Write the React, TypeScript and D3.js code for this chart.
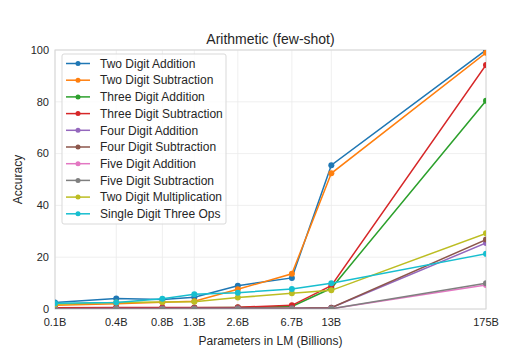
import { useEffect, useRef } from "react";
import * as d3 from "d3";

// model sizes in billions (GPT-3 family) and their tick labels
const PARAMS = [0.125, 0.35, 0.76, 1.3, 2.7, 6.7, 13, 175];
const TICK_LABELS = ["0.1B", "0.4B", "0.8B", "1.3B", "2.6B", "6.7B", "13B", "175B"];
const Y_TICKS = [0, 20, 40, 60, 80, 100];

const TWO_DIGIT_ADD = [2.5, 4.1, 3.7, 4.5, 9.0, 12.0, 55.5, 100.0];
const TWO_DIGIT_SUB = [1.4, 2.0, 2.6, 3.0, 7.6, 13.6, 52.4, 98.9];
const THREE_DIGIT_ADD = [0.3, 0.4, 0.4, 0.5, 0.6, 1.0, 8.0, 80.4];
const THREE_DIGIT_SUB = [0.5, 0.6, 0.6, 0.6, 0.7, 1.4, 9.0, 94.2];
const FOUR_DIGIT_ADD = [0.1, 0.2, 0.2, 0.3, 0.3, 0.3, 0.5, 25.5];
const FOUR_DIGIT_SUB = [0.1, 0.2, 0.2, 0.3, 0.3, 0.3, 0.5, 26.8];
const FIVE_DIGIT_ADD = [0.0, 0.0, 0.0, 0.0, 0.0, 0.0, 0.1, 9.3];
const FIVE_DIGIT_SUB = [0.0, 0.0, 0.0, 0.0, 0.0, 0.0, 0.1, 9.9];
const TWO_DIGIT_MUL = [1.8, 2.5, 2.7, 2.8, 4.4, 6.1, 7.2, 29.2];
const SINGLE_DIGIT_OPS = [2.2, 2.5, 4.0, 5.7, 6.3, 7.7, 9.9, 21.3];

const SERIES = [
  { name: "Two Digit Addition", values: TWO_DIGIT_ADD, color: "#1f77b4" },
  { name: "Two Digit Subtraction", values: TWO_DIGIT_SUB, color: "#ff7f0e" },
  { name: "Three Digit Addition", values: THREE_DIGIT_ADD, color: "#2ca02c" },
  { name: "Three Digit Subtraction", values: THREE_DIGIT_SUB, color: "#d62728" },
  { name: "Four Digit Addition", values: FOUR_DIGIT_ADD, color: "#9467bd" },
  { name: "Four Digit Subtraction", values: FOUR_DIGIT_SUB, color: "#8c564b" },
  { name: "Five Digit Addition", values: FIVE_DIGIT_ADD, color: "#e377c2" },
  { name: "Five Digit Subtraction", values: FIVE_DIGIT_SUB, color: "#7f7f7f" },
  { name: "Two Digit Multiplication", values: TWO_DIGIT_MUL, color: "#bcbd22" },
  { name: "Single Digit Three Ops", values: SINGLE_DIGIT_OPS, color: "#17becf" },
];

const FONT = "'Liberation Sans', Arial, sans-serif";

export default function App() {
  const svgRef = useRef<SVGSVGElement>(null);

  useEffect(() => {
    if (!svgRef.current) return;
    const width = 528;
    const height = 351;
    const margin = { top: 50, right: 42, bottom: 42, left: 55 };

    const svg = d3.select(svgRef.current);
    svg.selectAll("*").remove();
    svg.attr("width", width).attr("height", height);

    const x = d3.scaleLog()
      .domain([PARAMS[0], PARAMS[PARAMS.length - 1]])
      .range([margin.left, width - margin.right]);
    const y = d3.scaleLinear()
      .domain([0, 100])
      .range([height - margin.bottom, margin.top]);

    svg.append("rect").attr("width", width).attr("height", height).attr("fill", "#fff");

    svg.append("defs").append("clipPath").attr("id", "plotClip")
      .append("rect")
      .attr("x", margin.left).attr("y", margin.top)
      .attr("width", width - margin.left - margin.right)
      .attr("height", height - margin.top - margin.bottom);

    // Grid lines
    svg.append("g").selectAll("line").data(Y_TICKS).join("line")
      .attr("x1", margin.left).attr("x2", width - margin.right)
      .attr("y1", d => y(d)).attr("y2", d => y(d))
      .attr("stroke", "#ebebeb").attr("stroke-width", 0.8);
    svg.append("g").selectAll("line").data(PARAMS).join("line")
      .attr("x1", d => x(d)).attr("x2", d => x(d))
      .attr("y1", margin.top).attr("y2", height - margin.bottom)
      .attr("stroke", "#ebebeb").attr("stroke-width", 0.8);

    // Frame
    svg.append("rect")
      .attr("x", margin.left).attr("y", margin.top)
      .attr("width", width - margin.left - margin.right)
      .attr("height", height - margin.top - margin.bottom)
      .attr("fill", "none").attr("stroke", "#d6d6d6").attr("stroke-width", 1);

    // Axes labels
    svg.append("g").selectAll("text").data(Y_TICKS).join("text")
      .attr("x", margin.left - 6).attr("y", d => y(d))
      .attr("dy", "0.35em").attr("text-anchor", "end")
      .attr("font-family", FONT).attr("font-size", 11).attr("fill", "#262626")
      .text(d => d);
    svg.append("g").selectAll("text").data(PARAMS).join("text")
      .attr("x", d => x(d)).attr("y", height - margin.bottom + 17)
      .attr("text-anchor", "middle")
      .attr("font-family", FONT).attr("font-size", 11).attr("fill", "#262626")
      .text((d, i) => TICK_LABELS[i]);

    svg.append("text")
      .attr("x", (margin.left + width - margin.right) / 2).attr("y", 345)
      .attr("text-anchor", "middle")
      .attr("font-family", FONT).attr("font-size", 12).attr("fill", "#262626")
      .text("Parameters in LM (Billions)");
    svg.append("text")
      .attr("transform", `translate(22,${(margin.top + height - margin.bottom) / 2}) rotate(-90)`)
      .attr("text-anchor", "middle")
      .attr("font-family", FONT).attr("font-size", 12).attr("fill", "#262626")
      .text("Accuracy");
    svg.append("text")
      .attr("x", (margin.left + width - margin.right) / 2).attr("y", 44)
      .attr("text-anchor", "middle")
      .attr("font-family", FONT).attr("font-size", 14).attr("fill", "#262626")
      .text("Arithmetic (few-shot)");

    // Series
    const line = d3.line<number>()
      .x((d, i) => x(PARAMS[i]))
      .y(d => y(d));
    const plot = svg.append("g").attr("clip-path", "url(#plotClip)");
    SERIES.forEach(s => {
      plot.append("path")
        .datum(s.values)
        .attr("fill", "none")
        .attr("stroke", s.color)
        .attr("stroke-width", 1.5)
        .attr("d", line);
      plot.append("g").selectAll("circle").data(s.values).join("circle")
        .attr("cx", (d, i) => x(PARAMS[i]))
        .attr("cy", d => y(d))
        .attr("r", 3)
        .attr("fill", s.color);
    });

    // Legend
    const lx = 62, ly = 54, rowH = 16.7;
    const legend = svg.append("g");
    legend.append("rect")
      .attr("x", lx).attr("y", ly)
      .attr("width", 164).attr("height", 170)
      .attr("rx", 2)
      .attr("fill", "#fff").attr("fill-opacity", 0.8)
      .attr("stroke", "#d9d9d9").attr("stroke-width", 1);
    SERIES.forEach((s, i) => {
      const cy = ly + 9.5 + i * rowH;
      legend.append("line")
        .attr("x1", lx + 4).attr("x2", lx + 28)
        .attr("y1", cy).attr("y2", cy)
        .attr("stroke", s.color).attr("stroke-width", 1.5);
      legend.append("circle")
        .attr("cx", lx + 16).attr("cy", cy).attr("r", 2.5).attr("fill", s.color);
      legend.append("text")
        .attr("x", lx + 38).attr("y", cy).attr("dy", "0.35em")
        .attr("font-family", FONT).attr("font-size", 12).attr("fill", "#262626")
        .text(s.name);
    });
  }, []);

  return (
    <svg ref={svgRef} style={{ position: "absolute", left: 0, top: 0, display: "block" }} />
  );
}
